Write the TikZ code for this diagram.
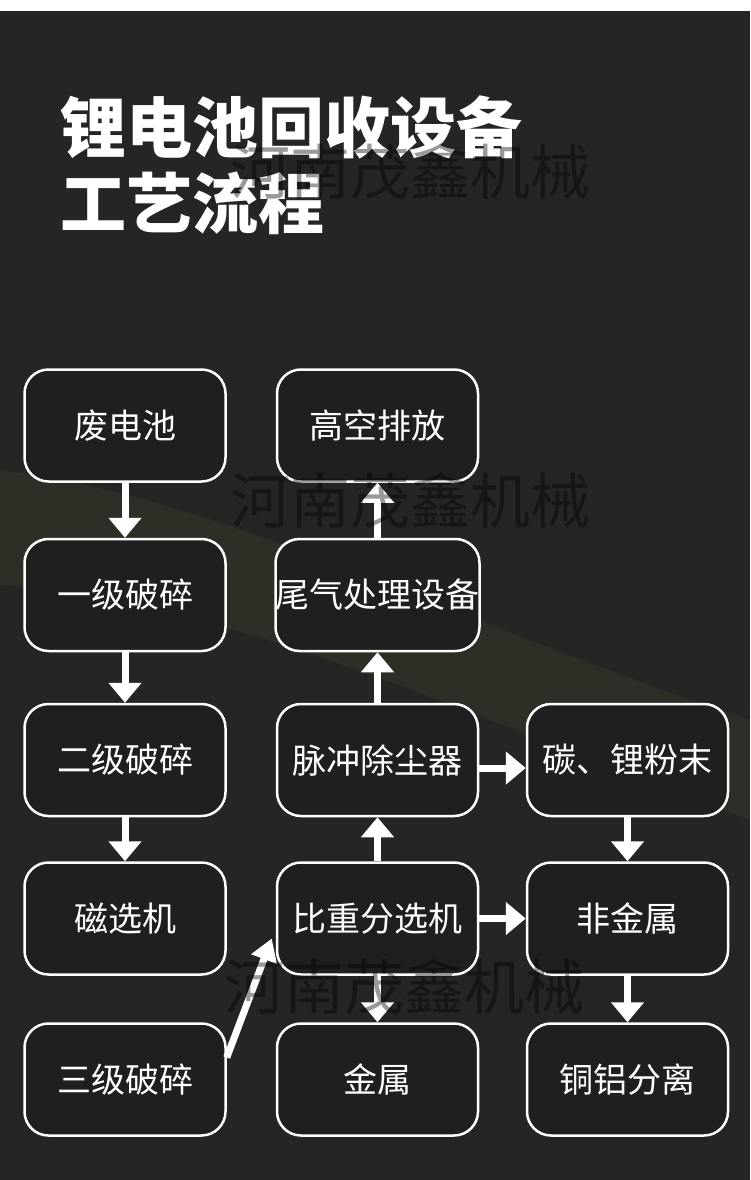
\documentclass[tikz,border=0pt]{standalone}
\usepackage{fontspec}
\newfontfamily\cjk{Noto Sans CJK SC}
\usetikzlibrary{arrows.meta}

\definecolor{pagebg}{HTML}{252525}
\definecolor{boxbg}{HTML}{1F1F1F}
\definecolor{swoosh}{HTML}{4A4A2C}

\tikzset{
  stage/.style={draw=white, line width=2.5pt, rounded corners=24pt, fill=boxbg,
    minimum width=201pt, minimum height=112pt, inner sep=0pt, text=white,
    font=\cjk\fontsize{34}{40}\selectfont},
  flow/.style={draw=white, line width=7pt, -{Triangle[width=32pt,length=20pt]}},
  headline/.style={text=white, inner sep=0pt, anchor=base west,
    font=\cjk\bfseries\fontsize{66}{74}\selectfont},
  wmark/.style={text=black, text opacity=0.4, inner sep=0pt,
    font=\cjk\fontsize{60}{70}\selectfont}
}

\begin{document}
\begin{tikzpicture}[x=1pt, y=-1pt]
		\useasboundingbox (0,0) rectangle (750,1180);
		\fill[white] (0,0) rectangle (750,11);
		\fill[pagebg] (0,11) rectangle (750,1180);
		\fill[swoosh, opacity=0.25] (0,470) .. controls (230,500) and (420,610) .. (750,720)
			-- (750,820) .. controls (430,700) and (220,600) .. (0,585) -- cycle;
		
		\node[headline] (t1) at (60,153) {锂电池回收设备};
		\node[headline] (t2) at (60,228) {工艺流程};
		
		\node[stage] (waste)  at (125,425.5)  {废电池};
		\node[stage] (crusha) at (125,595)    {一级破碎};
		\node[stage] (crushb) at (125,760)    {二级破碎};
		\node[stage] (magsep) at (125,918.5)  {磁选机};
		\node[stage] (crushc) at (125,1079.5) {三级破碎};
		
		\node[stage] (vent)   at (377.5,425.5)  {高空排放};
		\node[stage] (gas)    at (377.5,595)    {尾气处理设备};
		\node[stage] (pulse)  at (377.5,760)    {脉冲除尘器};
		\node[stage] (gravity) at (377.5,918.5) {比重分选机};
		\node[stage] (metal)  at (377.5,1079.5) {金属};
		
		\node[stage] (powder) at (627.5,760)    {碳、锂粉末};
		\node[stage] (nonmet) at (627.5,918.5)  {非金属};
		\node[stage] (cual)   at (627.5,1079.5) {铜铝分离};
		
		\draw[flow] (waste) -- (crusha);
		\draw[flow] (crusha) -- (crushb);
		\draw[flow] (crushb) -- (magsep);
		\draw[flow, -{Triangle[width=26pt,length=22pt]}] ([yshift=22pt]crushc.east) -- ([xshift=-4pt,yshift=-20pt]gravity.west);
		\draw[flow] (gravity) -- (pulse);
		\draw[flow] (pulse) -- (gas);
		\draw[flow] (gas) -- (vent);
		\draw[flow] (gravity) -- (metal);
		\draw[flow] ([yshift=-8pt]pulse.east) -- ([yshift=-8pt]powder.west);
		\draw[flow] (gravity) -- (nonmet);
		\draw[flow] (powder) -- (nonmet);
		\draw[flow] (nonmet) -- (cual);
		
		\node[wmark] (w1) at (410,171) {河南茂鑫机械};
		\node[wmark] (w2) at (410,500) {河南茂鑫机械};
		\node[wmark] (w3) at (404,986) {河南茂鑫机械};
\end{tikzpicture}
\end{document}
